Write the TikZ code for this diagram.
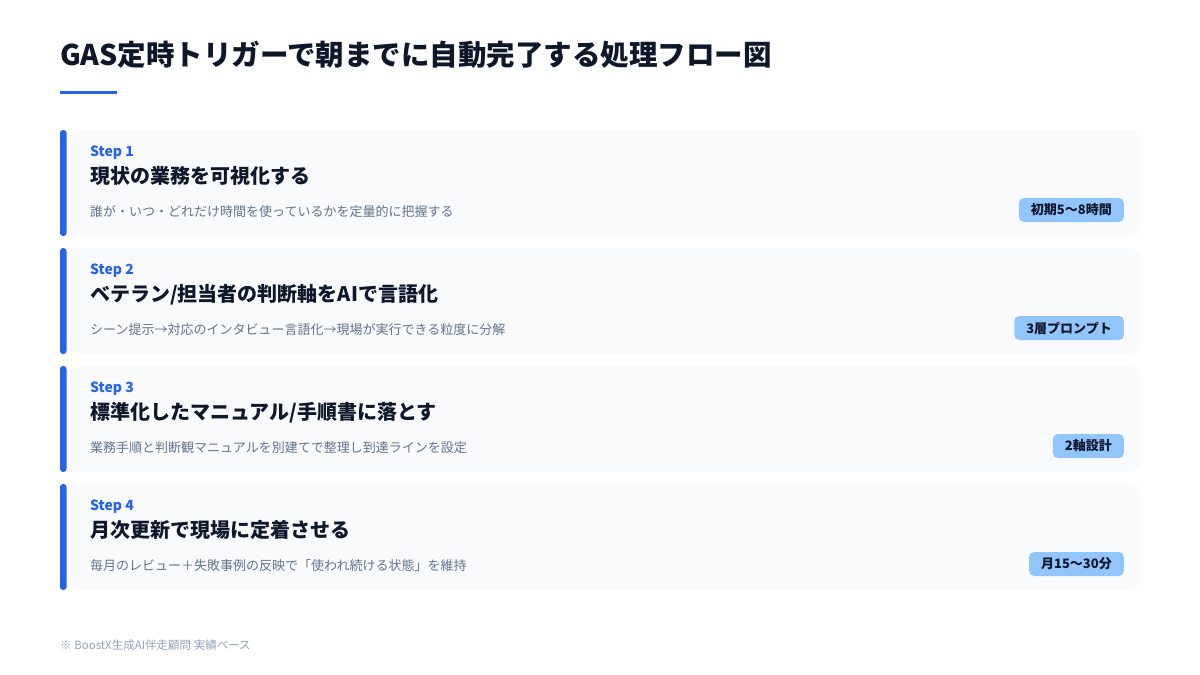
\documentclass[tikz,border=0pt]{standalone}
\usepackage{fontspec}
\setmainfont{Noto Sans CJK JP}
\usetikzlibrary{positioning}
\definecolor{accent}{HTML}{2563EB}
\definecolor{cardbg}{HTML}{F8FAFC}
\definecolor{ink}{HTML}{0F172A}
\definecolor{muted}{HTML}{64748B}
\definecolor{faint}{HTML}{94A3B8}
\definecolor{badgebg}{HTML}{93C5FD}
\begin{document}
\begin{tikzpicture}[x=1pt,y=-1pt]
  \tikzset{
    card/.style={fill=cardbg,rounded corners=10pt},
    accentbar/.style={fill=accent,rounded corners=3pt},
    steplabel/.style={anchor=base west,inner sep=0pt,text=accent,font=\fontsize{14}{16}\selectfont\bfseries},
    steptitle/.style={anchor=base west,inner sep=0pt,text=ink,font=\fontsize{20}{24}\selectfont\bfseries},
    stepdesc/.style={anchor=base west,inner sep=0pt,text=muted,font=\fontsize{13}{15}\selectfont},
    badge/.style={anchor=east,fill=badgebg,rounded corners=5pt,minimum height=24pt,inner xsep=12pt,inner ysep=0pt,text=ink,font=\fontsize{13}{15}\selectfont\bfseries}
  }
  \useasboundingbox (0,0) rectangle (1200,675);
  \fill[white] (0,0) rectangle (1200,675);

    %TITLE
    \node[anchor=base west,inner sep=0pt,text=ink,font=\fontsize{28.5}{32}\selectfont\bfseries] (title) at (60,65) {GAS定時トリガーで朝までに自動完了する処理フロー図};
    \fill[accent] (60,90.5) rectangle (117,94);

    %CARDS
    \foreach \i/\top/\title/\desc/\tag in {
      1/130/{現状の業務を可視化する}/{誰が・いつ・どれだけ時間を使っているかを定量的に把握する}/{初期5〜8時間},
      2/248/{ベテラン/担当者の判断軸をAIで言語化}/{シーン提示→対応のインタビュー言語化→現場が実行できる粒度に分解}/{3層プロンプト},
      3/366/{標準化したマニュアル/手順書に落とす}/{業務手順と判断観マニュアルを別建てで整理し到達ラインを設定}/{2軸設計},
      4/484/{月次更新で現場に定着させる}/{毎月のレビュー＋失敗事例の反映で「使われ続ける状態」を維持}/{月15〜30分}} {
      \fill[card] (68,\top) rectangle (1140,\top+106);
      \fill[accentbar] (60,\top) rectangle (66.5,\top+106);
      \node[steplabel] (step\i) at (90,\top+26) {Step \i};
      \node[steptitle] (title\i) at (90,\top+53) {\title};
      \node[stepdesc] (desc\i) at (90,\top+86) {\desc};
      \node[badge] (tag\i) at (1124,\top+80) {\tag};
    }

    %NOTE
    \node[anchor=west,inner sep=0pt,text=faint,font=\fontsize{11.5}{13}\selectfont] (note) at (60,645) {※ BoostX生成AI伴走顧問 実績ベース};
  \end{tikzpicture}
\end{document}
